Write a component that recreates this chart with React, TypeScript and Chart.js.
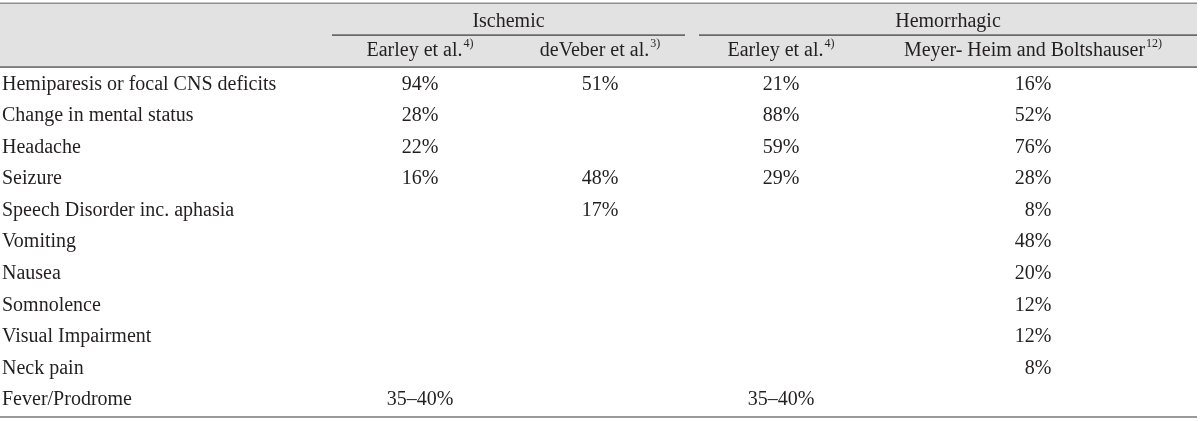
import { useEffect, useRef } from "react";
import { Chart, registerables } from "chart.js";

Chart.register(...registerables);

// ---------- data ----------
const rowLabels = [
  "Hemiparesis or focal CNS deficits",
  "Change in mental status",
  "Headache",
  "Seizure",
  "Speech Disorder inc. aphasia",
  "Vomiting",
  "Nausea",
  "Somnolence",
  "Visual Impairment",
  "Neck pain",
  "Fever/Prodrome",
];
const groupHeaders = ["Ischemic", "Hemorrhagic"];
const studyNames = ["Earley et al.", "deVeber et al.", "Earley et al.", "Meyer- Heim and Boltshauser"];
const studyRefs = ["4)", "3)", "4)", "12)"];

const ischemicEarley: (number | string | null)[] = [94, 28, 22, 16, null, null, null, null, null, null, "35–40%"];
const ischemicDeVeber: (number | string | null)[] = [51, null, null, 48, 17, null, null, null, null, null, null];
const hemorrhagicEarley: (number | string | null)[] = [21, 88, 59, 29, null, null, null, null, null, null, "35–40%"];
const hemorrhagicMeyer: (number | string | null)[] = [16, 52, 76, 28, 8, 48, 20, 12, 12, 8, null];

// ---------- layout (not data) ----------
const COLUMN_CENTERS = [420, 600, 781, 1033];
const ROW_LABEL_X = 2;
const GROUP_SPANS: [number, number][] = [
  [332, 685],
  [699, 1197],
];
const TABLE_RIGHT = 1197;
const Y_MIN = -2.678;
const Y_MAX = 10.666;
const HEADER_ROW_1 = -2.0;
const HEADER_ROW_2 = -1.08;
const RULE_TOP = -2.567;
const RULE_GROUP = -1.569;
const RULE_HEADER = -0.555;
const RULE_BOTTOM = 10.539;

const FONT = "20px 'Liberation Serif', 'Times New Roman', serif";
const SUP_FONT = "12px 'Liberation Serif', 'Times New Roman', serif";
const TEXT_COLOR = "#231f20";

const columns = [ischemicEarley, ischemicDeVeber, hemorrhagicEarley, hemorrhagicMeyer];

function buildDatasets() {
  const ds: any[] = [];
  ds.push({
    label: "Symptom",
    data: rowLabels.map((_, i) => ({ x: ROW_LABEL_X, y: i })),
    texts: rowLabels,
    align: "left",
    pointRadius: 0,
  });
  columns.forEach((col, c) => {
    const data: any[] = [];
    const texts: any[] = [];
    col.forEach((v, i) => {
      if (v === null) return;
      data.push({ x: COLUMN_CENTERS[c], y: i });
      texts.push(v);
    });
    ds.push({ label: studyNames[c], data, texts, align: "value", pointRadius: 0 });
  });
  return ds;
}

const tablePlugin = {
  id: "tableDraw",
  beforeDatasetsDraw(chart: any) {
    const { ctx, scales } = chart;
    const y = scales.y;
    const x = scales.x;
    const top = y.getPixelForValue(RULE_TOP);
    const hb = y.getPixelForValue(RULE_HEADER);
    const gr = y.getPixelForValue(RULE_GROUP);
    const bot = y.getPixelForValue(RULE_BOTTOM);
    const left = x.getPixelForValue(0);
    const right = x.getPixelForValue(TABLE_RIGHT);
    ctx.save();
    ctx.fillStyle = "#e2e2e2";
    ctx.fillRect(left, top, right - left, hb - top);
    ctx.fillStyle = "#8f8f8f";
    ctx.fillRect(left, top - 1, right - left, 1.5);
    ctx.fillStyle = "#3c3c3c";
    ctx.fillRect(left, hb - 0.5, right - left, 1.2);
    ctx.fillStyle = "#9a9a9a";
    ctx.fillRect(left, bot - 1, right - left, 2);
    ctx.fillStyle = "#333333";
    GROUP_SPANS.forEach(([a, b]) => {
      const pa = x.getPixelForValue(a);
      const pb = x.getPixelForValue(b);
      ctx.fillRect(pa, gr - 0.5, pb - pa, 1.2);
    });

    // headers
    ctx.fillStyle = TEXT_COLOR;
    ctx.textBaseline = "middle";
    ctx.font = FONT;
    ctx.textAlign = "center";
    const h1 = y.getPixelForValue(HEADER_ROW_1);
    const h2 = y.getPixelForValue(HEADER_ROW_2);
    groupHeaders.forEach((g, i) => {
      const [a, b] = GROUP_SPANS[i];
      ctx.fillText(g, x.getPixelForValue((a + b) / 2), h1);
    });
    studyNames.forEach((name, i) => {
      ctx.font = FONT;
      const w = ctx.measureText(name).width;
      ctx.font = SUP_FONT;
      const sw = ctx.measureText(studyRefs[i]).width + 1;
      const cx = x.getPixelForValue(COLUMN_CENTERS[i]);
      const start = cx - (w + sw) / 2;
      ctx.textAlign = "left";
      ctx.font = FONT;
      ctx.fillText(name, start, h2);
      ctx.font = SUP_FONT;
      ctx.fillText(studyRefs[i], start + w + 1, h2 - 7);
    });
    ctx.restore();
  },
  afterDatasetsDraw(chart: any) {
    const { ctx } = chart;
    ctx.save();
    ctx.fillStyle = TEXT_COLOR;
    ctx.font = FONT;
    ctx.textBaseline = "middle";
    const halfNum = ctx.measureText("00%").width / 2;
    chart.data.datasets.forEach((ds: any, di: number) => {
      const meta = chart.getDatasetMeta(di);
      meta.data.forEach((el: any, j: number) => {
        const v = ds.texts[j];
        if (ds.align === "left") {
          ctx.textAlign = "left";
          ctx.fillText(String(v), el.x, el.y);
        } else if (typeof v === "number") {
          ctx.textAlign = "right";
          ctx.fillText(`${v}%`, el.x + halfNum, el.y);
        } else {
          ctx.textAlign = "center";
          ctx.fillText(String(v), el.x, el.y);
        }
      });
    });
    ctx.restore();
  },
};

export default function App() {
  const ref = useRef<HTMLCanvasElement | null>(null);
  useEffect(() => {
    document.body.style.margin = "0";
    const canvas = ref.current;
    if (!canvas) return;
    const chart = new Chart(canvas, {
      type: "scatter",
      data: { datasets: buildDatasets() },
      options: {
        responsive: false,
        maintainAspectRatio: false,
        animation: false,
        events: [],
        layout: { padding: 0 },
        plugins: { legend: { display: false }, tooltip: { enabled: false } },
        scales: {
          x: { type: "linear", display: false, min: 0, max: 1200 },
          y: { type: "linear", display: false, min: Y_MIN, max: Y_MAX, reverse: true },
        },
      },
      plugins: [tablePlugin],
    } as any);
    return () => chart.destroy();
  }, []);
  return (
    <div style={{ width: 1200, height: 421, background: "#fff" }}>
      <canvas ref={ref} width={1200} height={421} style={{ display: "block" }} />
    </div>
  );
}
